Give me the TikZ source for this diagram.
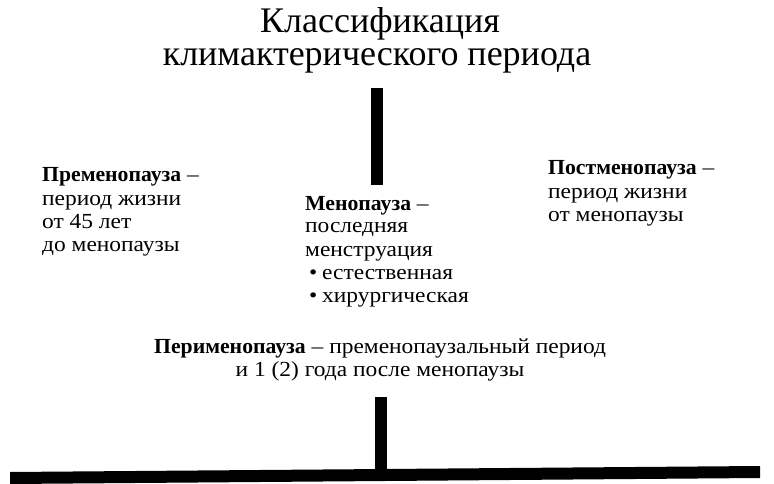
\documentclass[tikz,border=0pt]{standalone}
\usepackage{fontspec}
\setmainfont{Liberation Serif}[FakeStretch=1.09, BoldFont={Liberation Serif Bold}, BoldFeatures={FakeStretch=1.01}]
\newfontfamily\titlefont{Liberation Serif}
\begin{document}
\begin{tikzpicture}[x=1pt,y=-1pt,
  txt/.style={inner sep=0pt, anchor=base west, font=\fontsize{21.5}{23}\selectfont},
  ttl/.style={inner sep=0pt, anchor=base, font=\titlefont\fontsize{36}{36}\selectfont},
  bar/.style={line width=12pt}]
\useasboundingbox (0,0) rectangle (774,484);
% title
\node[ttl] (t1) at (380,33) {Классификация};
\node[ttl] (t2) at (377,66) {климактерического периода};
% left block
\node[txt] (pre1) at (42,182) {\textbf{Пременопауза} –};
\node[txt] (pre2) at (42,205) {период жизни};
\node[txt] (pre3) at (42,228) {от 45 лет};
\node[txt] (pre4) at (42,251) {до менопаузы};
% middle block
\node[txt] (men1) at (305,210) {\textbf{Менопауза} –};
\node[txt] (men2) at (305,233) {последняя};
\node[txt] (men3) at (305,256) {менструация};
\node[txt] (men4) at (309,279) {•};
\node[txt] (men5) at (322,279) {естественная};
\node[txt] (men6) at (309,302) {•};
\node[txt] (men7) at (322,302) {хирургическая};
% right block
\node[txt] (post1) at (548,175) {\textbf{Постменопауза} –};
\node[txt] (post2) at (548,198) {период жизни};
\node[txt] (post3) at (548,221) {от менопаузы};
% perimenopause
\node[txt] (peri1) at (154,353) {\textbf{Перименопауза} – пременопаузальный период};
\node[txt, anchor=base] (peri2) at (380,376) {и 1 (2) года после менопаузы};
% bars
\coordinate (b1) at (377,88);
\coordinate (b2) at (377,185);
\draw[bar] (b1) -- (b2);
\coordinate (c1) at (381,397);
\coordinate (c2) at (381,472);
\draw[bar] (c1) -- (c2);
\fill (10,472) -- (760,466) -- (760,478) -- (10,484) -- cycle;
\end{tikzpicture}
\end{document}
